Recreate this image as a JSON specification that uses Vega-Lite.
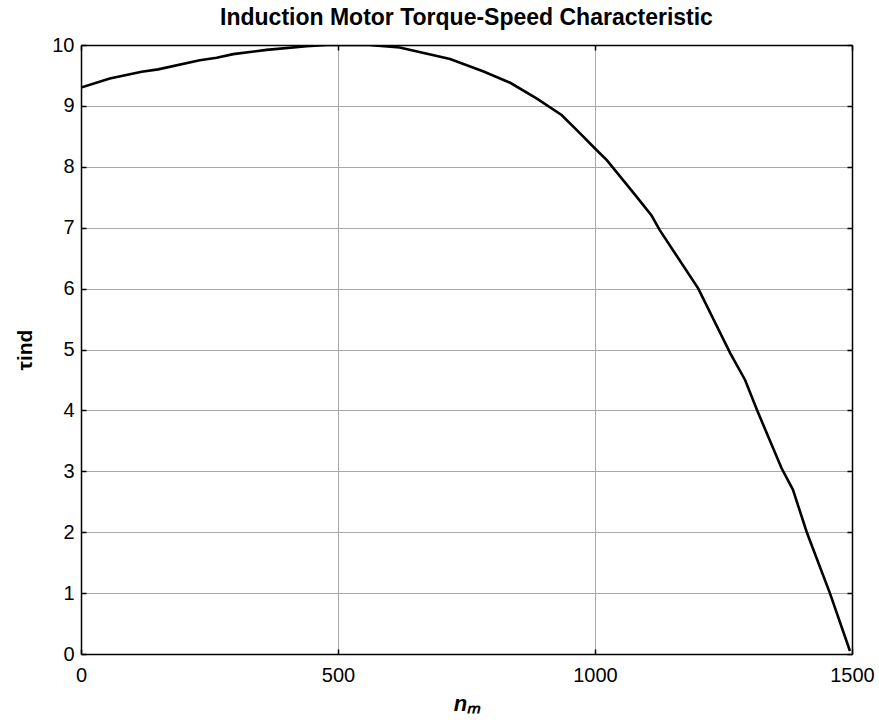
{
  "$schema": "https://vega.github.io/schema/vega-lite/v6.json",
  "autosize": "none",
  "width": 771,
  "height": 609,
  "padding": {"left": 81, "top": 45, "right": 27, "bottom": 70},
  "background": "white",
  "config": {
    "view": {"stroke": null},
    "font": "Liberation Sans",
    "axis": {
      "domainColor": "black",
      "domainWidth": 1.5,
      "tickColor": "black",
      "tickSize": -5,
      "tickWidth": 1.5,
      "gridColor": "#a8a8a8",
      "gridWidth": 1,
      "labelFont": "Liberation Sans",
      "labelFontSize": 20,
      "labelColor": "black",
      "titleFont": "Liberation Sans",
      "titleColor": "black",
      "titleFontWeight": "bold"
    }
  },
  "title": {
    "text": "Induction Motor Torque-Speed Characteristic",
    "font": "Liberation Sans",
    "fontSize": 23,
    "fontWeight": "bold",
    "color": "black",
    "offset": 5,
    "anchor": "middle"
  },
  "data": {
    "values": [
      {"n": 0, "t": 9.30},
      {"n": 56, "t": 9.45},
      {"n": 118, "t": 9.56},
      {"n": 150, "t": 9.60},
      {"n": 231, "t": 9.75},
      {"n": 264, "t": 9.79},
      {"n": 296, "t": 9.85},
      {"n": 361, "t": 9.92},
      {"n": 439, "t": 9.98},
      {"n": 480, "t": 10.0},
      {"n": 560, "t": 10.0},
      {"n": 620, "t": 9.96},
      {"n": 718, "t": 9.77},
      {"n": 782, "t": 9.57},
      {"n": 835, "t": 9.38},
      {"n": 887, "t": 9.12},
      {"n": 935, "t": 8.85},
      {"n": 971, "t": 8.55},
      {"n": 1000, "t": 8.30},
      {"n": 1023, "t": 8.11},
      {"n": 1078, "t": 7.54},
      {"n": 1110, "t": 7.20},
      {"n": 1126, "t": 6.96},
      {"n": 1201, "t": 6.00},
      {"n": 1263, "t": 4.94},
      {"n": 1292, "t": 4.50},
      {"n": 1315, "t": 4.01},
      {"n": 1363, "t": 3.05},
      {"n": 1385, "t": 2.70},
      {"n": 1412, "t": 2.00},
      {"n": 1457, "t": 1.00},
      {"n": 1496, "t": 0.05}
    ]
  },
  "layer": [
    {
      "mark": {"type": "line", "color": "black", "strokeWidth": 2.6, "clip": true},
      "encoding": {
        "x": {
          "field": "n", "type": "quantitative",
          "scale": {"domain": [0, 1500], "nice": false},
          "axis": {
            "values": [0, 500, 1000, 1500],
            "format": "d",
            "title": "nₘ",
            "titleFontSize": 22,
            "titleFontStyle": "italic",
            "titlePadding": 8,
            "labelPadding": 16,
            "grid": true,
            "labelFlush": false
          }
        },
        "y": {
          "field": "t", "type": "quantitative",
          "scale": {"domain": [0, 10], "nice": false},
          "axis": {
            "values": [0, 1, 2, 3, 4, 5, 6, 7, 8, 9, 10],
            "format": "d",
            "title": "τind",
            "titleFontSize": 21,
            "titlePadding": 16,
            "labelPadding": 12,
            "grid": true,
            "labelFlush": false
          }
        }
      }
    },
    {
      "mark": {"type": "point", "opacity": 0},
      "encoding": {
        "x": {
          "field": "n", "type": "quantitative",
          "scale": {"domain": [0, 1500], "nice": false},
          "axis": {"orient": "top", "values": [0, 500, 1000, 1500], "labels": false, "title": null, "grid": false}
        },
        "y": {
          "field": "t", "type": "quantitative",
          "scale": {"domain": [0, 10], "nice": false},
          "axis": {"orient": "right", "values": [0, 1, 2, 3, 4, 5, 6, 7, 8, 9, 10], "labels": false, "title": null, "grid": false}
        }
      }
    }
  ],
  "resolve": {"axis": {"x": "independent", "y": "independent"}}
}
